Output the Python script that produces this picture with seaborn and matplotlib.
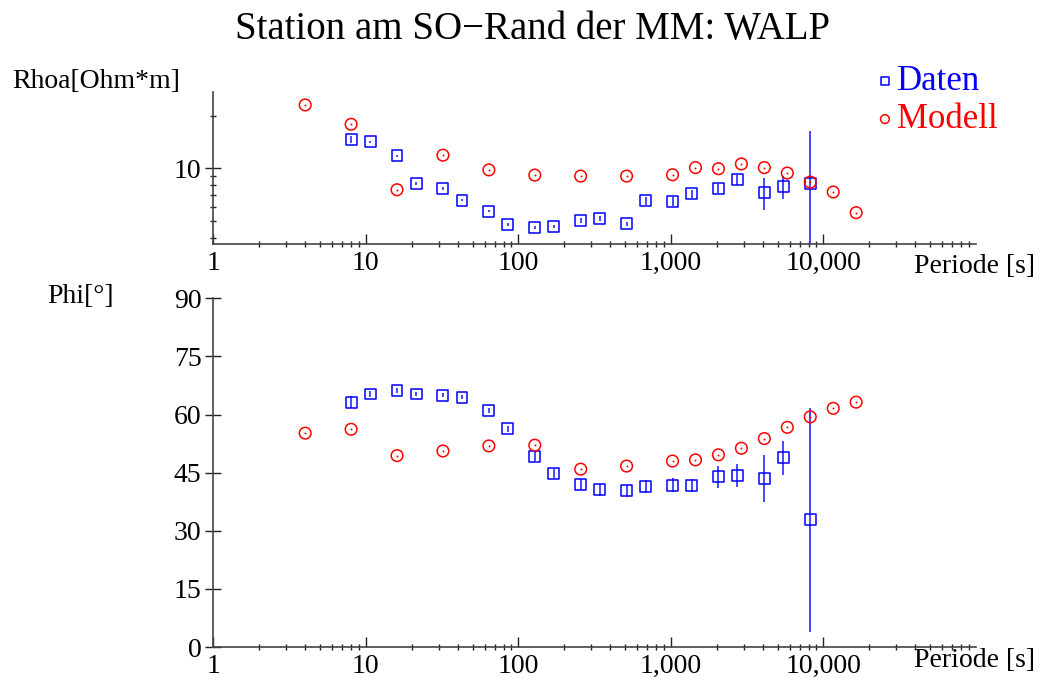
import matplotlib
matplotlib.use('Agg')
import matplotlib.pyplot as plt
import seaborn as sns
import numpy as np
from matplotlib.ticker import LogLocator, NullFormatter, FixedLocator

# daten (messung) und modell
periode_daten = [8, 10.67, 16, 21.33, 32, 42.67, 64, 85.33, 128, 170.67, 256, 341.33,
                 512, 682.67, 1024, 1365.33, 2048, 2730.67, 4096, 5461.33, 8192]
rhoa_daten = [14.6, 14.2, 11.8, 8.16, 7.68, 6.56, 5.69, 4.75, 4.57, 4.63, 5.04, 5.17,
              4.80, 6.52, 6.47, 7.15, 7.64, 8.61, 7.28, 7.88, 8.2]
rhoa_fehler = [0.7, 0.2, 0.2, 0.15, 0.15, 0.1, 0.1, 0.08, 0.08, 0.08, 0.15, 0.15,
               0.15, 0.35, 0.35, 0.4, 0.45, 0.55, 1.5, 1.2, 8.15]
phi_daten = [63.2, 65.3, 66.2, 65.3, 65.0, 64.5, 61.0, 56.3, 49.2, 44.8, 41.9, 40.6,
             40.3, 41.4, 41.8, 41.6, 43.9, 44.2, 43.4, 48.8, 32.8]
phi_fehler = [1.5, 0.8, 0.6, 0.6, 0.6, 0.6, 0.6, 0.8, 1.2, 1.2, 1.5, 1.6,
              1.6, 1.7, 1.7, 1.7, 2.9, 3.0, 6.1, 4.4, 28.8]

periode_modell = [4, 8, 16, 32, 64, 128, 256, 512, 1024, 1448, 2048, 2896,
                  4096, 5793, 8192, 11585, 16384]
rhoa_modell = [23.1, 17.9, 7.54, 11.9, 9.8, 9.15, 9.03, 9.03, 9.19, 10.1, 9.95, 10.6,
               10.1, 9.4, 8.34, 7.32, 5.57]
phi_modell = [55.2, 56.2, 49.4, 50.6, 51.9, 52.1, 45.9, 46.7, 48.0, 48.3, 49.6, 51.3,
              53.8, 56.7, 59.4, 61.6, 63.2]

x_ticks = [1, 10, 100, 1000, 10000]
x_labels = ['1', '10', '100', '1,000', '10,000']
phi_ticks = [0, 15, 30, 45, 60, 75, 90]

sns.set_style('white')
plt.rcParams['font.family'] = ['Liberation Serif', 'DejaVu Serif']
plt.rcParams['font.size'] = 20
plt.rcParams['text.color'] = 'black'

fig = plt.figure(figsize=(10.49, 6.82), dpi=100)
ax1 = fig.add_axes([0.2034, 0.6418, 0.7270, 0.2237])
ax2 = fig.add_axes([0.2034, 0.0513, 0.7270, 0.5113])

blau = '#0000ff'
rot = '#ff0000'


def zeichne(ax, y_daten, fehler, y_modell, mit_label=False):
    ax.errorbar(periode_daten, y_daten, yerr=fehler, fmt='none', ecolor='#3a3aff',
                elinewidth=1.3, capsize=0, zorder=2)
    sns.scatterplot(x=periode_daten, y=y_daten, marker='s', s=62, facecolor='none',
                    edgecolor=blau, linewidth=1.1, ax=ax, zorder=3,
                    label='Daten' if mit_label else None)
    sns.scatterplot(x=periode_modell, y=y_modell, marker='o', s=70, facecolor='none',
                    edgecolor=rot, linewidth=1.1, ax=ax, zorder=3,
                    label='Modell' if mit_label else None)
    sns.scatterplot(x=periode_modell, y=y_modell, marker='o', s=2, color=rot,
                    linewidth=0, ax=ax, zorder=4)

    ax.set_xscale('log')
    ax.set_xlim(1, 1e5)
    ax.set_xticks(x_ticks, labels=x_labels)
    ax.xaxis.set_minor_locator(LogLocator(base=10, subs=np.arange(2, 10)))
    ax.xaxis.set_minor_formatter(NullFormatter())
    for s in ['top', 'right']:
        ax.spines[s].set_visible(False)
    for s in ['left', 'bottom']:
        ax.spines[s].set_color('#444444')
        ax.spines[s].set_linewidth(1.2)
    ax.tick_params(axis='x', which='major', direction='in', length=7, width=1,
                   color='#222222', pad=5, labelsize=20, labelcolor='black', bottom=True)
    ax.tick_params(axis='x', which='minor', direction='inout', length=4.5, width=1,
                   color='#222222', bottom=True)
    ax.tick_params(axis='y', which='major', direction='inout', length=11, width=1,
                   color='#222222', pad=3, labelsize=20, labelcolor='black', left=True)
    ax.tick_params(axis='y', which='minor', direction='inout', length=5, width=1,
                   color='#222222', left=True)
    ax.set_xlabel('')
    ax.set_ylabel('')


# Rhoa
zeichne(ax1, rhoa_daten, rhoa_fehler, rhoa_modell, mit_label=True)
ax1.set_yscale('log')
ax1.set_ylim(3.67, 27.5)
ax1.set_yticks([10], labels=['10'])
ax1.yaxis.set_minor_locator(FixedLocator([4, 5, 6, 7, 8, 9, 20]))
ax1.yaxis.set_minor_formatter(NullFormatter())
ax1.legend_.remove()

# Phi
zeichne(ax2, phi_daten, phi_fehler, phi_modell)
ax2.set_ylim(0, 90)
ax2.set_yticks(phi_ticks, labels=[str(t) for t in phi_ticks])
ax2.yaxis.set_minor_locator(FixedLocator([]))

# texte
fig.text(0.508, 1 - 39 / 682, 'Station am SO\u2212Rand der MM: WALP', ha='center',
         va='baseline', fontsize=28, color='black')
fig.text(12 / 1049, 1 - 88 / 682, 'Rhoa[Ohm*m]', ha='left', va='baseline',
         fontsize=20, color='black')
fig.text(47 / 1049, 1 - 303 / 682, 'Phi[\u00b0]', ha='left', va='baseline',
         fontsize=20, color='black')
fig.text(914 / 1049, 1 - 273 / 682, 'Periode [s]', ha='left', va='baseline',
         fontsize=20, color='black')
fig.text(914 / 1049, 1 - 667 / 682, 'Periode [s]', ha='left', va='baseline',
         fontsize=20, color='black')

h, l = ax1.get_legend_handles_labels()
leg = fig.legend(h, l, loc='upper left', bbox_to_anchor=(878 / 1049, 1 - 65 / 682),
                 frameon=False, fontsize=25, handlelength=0.4, handletextpad=0.15,
                 labelspacing=0.15, borderpad=0, borderaxespad=0, markerscale=0.75)
for txt, c in zip(leg.get_texts(), [blau, rot]):
    txt.set_color(c)

fig.savefig('out.png', dpi=100)
